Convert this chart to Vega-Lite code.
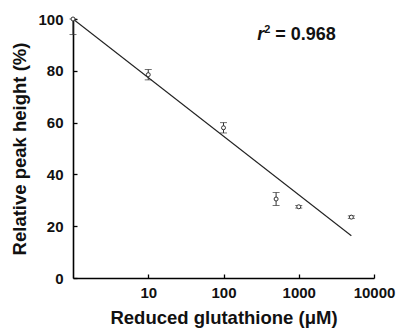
{
  "$schema": "https://vega.github.io/schema/vega-lite/v6.json",
  "width": 301,
  "height": 259,
  "autosize": {"type": "none"},
  "padding": {"left": 73, "top": 19, "right": 28, "bottom": 51},
  "background": "white",
  "config": {
    "view": {"stroke": null},
    "font": "Liberation Sans",
    "axis": {
      "grid": false,
      "labelFlush": false,
      "labelOverlap": false,
      "domainColor": "#000",
      "domainWidth": 1.6,
      "tickColor": "#000",
      "tickWidth": 1.3,
      "labelFont": "Liberation Sans",
      "labelFontWeight": "bold",
      "labelFontSize": 15,
      "labelColor": "#111",
      "titleFont": "Liberation Sans",
      "titleFontWeight": "bold",
      "titleFontSize": 18.5,
      "titleColor": "#111"
    }
  },
  "datasets": {
    "pts": [
      {"conc": 1, "height": 100, "lo": 94, "hi": 100},
      {"conc": 10, "height": 78.5, "lo": 76.5, "hi": 80.5},
      {"conc": 100, "height": 58, "lo": 56, "hi": 60},
      {"conc": 500, "height": 30.5, "lo": 28, "hi": 33},
      {"conc": 1000, "height": 27.5, "lo": 27, "hi": 28},
      {"conc": 5000, "height": 23.5, "lo": 23, "hi": 24}
    ],
    "fit": [
      {"conc": 1, "height": 100},
      {"conc": 5000, "height": 16.3}
    ],
    "ann": [
      {"conc": 280, "height": 93.8, "r": "r", "rest": "2", "val": "= 0.968"}
    ]
  },
  "layer": [
    {
      "data": {"name": "fit"},
      "mark": {"type": "line", "color": "#222", "strokeWidth": 1.1},
      "encoding": {
        "x": {
          "field": "conc", "type": "quantitative",
          "scale": {"type": "log", "domain": [1, 10000]},
          "axis": {
            "title": "Reduced glutathione (μM)",
            "values": [10, 100, 1000, 10000],
            "format": "d",
            "tickSize": -4,
            "labelPadding": 11,
            "titlePadding": 8
          }
        },
        "y": {
          "field": "height", "type": "quantitative",
          "scale": {"domain": [0, 100]},
          "axis": {
            "title": "Relative peak height (%)",
            "values": [0, 20, 40, 60, 80, 100],
            "tickSize": -4,
            "labelPadding": 14,
            "titlePadding": 8
          }
        }
      }
    },
    {
      "data": {"name": "pts"},
      "mark": {"type": "rule", "color": "#333", "strokeWidth": 1},
      "encoding": {
        "x": {"field": "conc", "type": "quantitative"},
        "y": {"field": "lo", "type": "quantitative"},
        "y2": {"field": "hi"}
      }
    },
    {
      "data": {"name": "pts"},
      "mark": {"type": "tick", "color": "#333", "size": 7, "thickness": 1, "orient": "horizontal"},
      "encoding": {
        "x": {"field": "conc", "type": "quantitative"},
        "y": {"field": "lo", "type": "quantitative"}
      }
    },
    {
      "data": {"name": "pts"},
      "mark": {"type": "tick", "color": "#333", "size": 7, "thickness": 1, "orient": "horizontal"},
      "encoding": {
        "x": {"field": "conc", "type": "quantitative"},
        "y": {"field": "hi", "type": "quantitative"}
      }
    },
    {
      "data": {"name": "pts"},
      "mark": {"type": "point", "shape": "circle", "filled": true, "fill": "white", "stroke": "#333", "strokeWidth": 1, "size": 16, "opacity": 1},
      "encoding": {
        "x": {"field": "conc", "type": "quantitative"},
        "y": {"field": "height", "type": "quantitative"}
      }
    },
    {
      "data": {"name": "ann"},
      "mark": {"type": "text", "font": "Liberation Sans", "fontWeight": "bold", "fontStyle": "italic", "fontSize": 18, "align": "left", "baseline": "middle", "color": "#111"},
      "encoding": {
        "x": {"field": "conc", "type": "quantitative"},
        "y": {"field": "height", "type": "quantitative"},
        "text": {"field": "r"}
      }
    },
    {
      "data": {"name": "ann"},
      "mark": {"type": "text", "font": "Liberation Sans", "fontWeight": "bold", "fontSize": 11, "align": "left", "baseline": "middle", "dx": 7, "dy": -5, "color": "#111"},
      "encoding": {
        "x": {"field": "conc", "type": "quantitative"},
        "y": {"field": "height", "type": "quantitative"},
        "text": {"field": "rest"}
      }
    },
    {
      "data": {"name": "ann"},
      "mark": {"type": "text", "font": "Liberation Sans", "fontWeight": "bold", "fontSize": 18, "align": "left", "baseline": "middle", "dx": 18, "color": "#111"},
      "encoding": {
        "x": {"field": "conc", "type": "quantitative"},
        "y": {"field": "height", "type": "quantitative"},
        "text": {"field": "val"}
      }
    }
  ]
}
